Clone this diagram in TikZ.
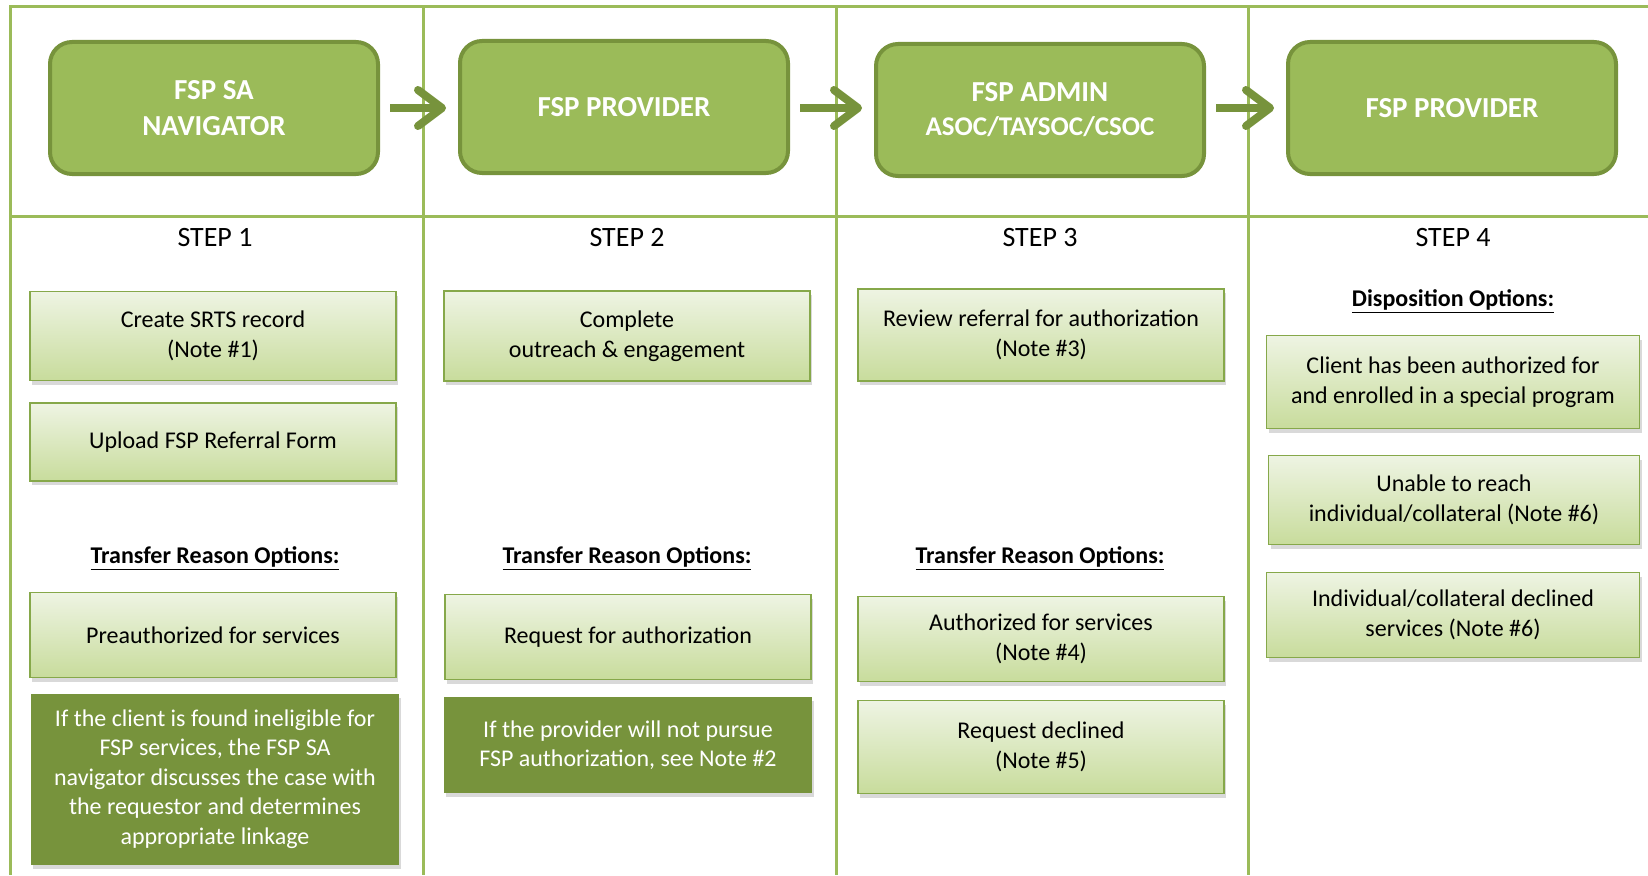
\documentclass[tikz,border=0pt]{standalone}
\usepackage{fontspec}
\setmainfont{Carlito}
\usetikzlibrary{arrows.meta,shadows}
\definecolor{gridgreen}{HTML}{9BBB59}
\definecolor{headfill}{HTML}{9BBB59}
\definecolor{olive}{HTML}{77933C}
\definecolor{paletop}{HTML}{EEF4E3}
\definecolor{palebot}{HTML}{C8DC9C}
\definecolor{paleline}{HTML}{86A84A}

\begin{document}
\begin{tikzpicture}[x=1pt, y=-1pt,
    header/.style={rounded corners=22pt, draw=olive, line width=4pt, fill=headfill,
        text=white, align=center, minimum width=328pt, minimum height=132pt,
        font=\fontsize{29}{36}\selectfont\bfseries},
    steplabel/.style={font=\fontsize{28}{34}\selectfont},
    optlabel/.style={font=\fontsize{24}{29}\selectfont\bfseries},
    lightbox/.style={draw=paleline, line width=1.5pt, top color=paletop, bottom color=palebot,
        align=center, minimum width=366pt, font=\fontsize{24}{29.5}\selectfont,
        drop shadow={shadow xshift=2pt, shadow yshift=-4pt, opacity=0.3}},
    darkbox/.style={fill=olive, text=white, align=center, minimum width=368pt,
        font=\fontsize{24}{29.5}\selectfont,
        drop shadow={shadow xshift=2pt, shadow yshift=-4pt, opacity=0.3}},
    gridline/.style={draw=gridgreen, line width=3pt},
    flowarrow/.style={draw=olive, line width=8pt, shorten <=10pt, shorten >=12pt,
        -{Straight Barb[length=24pt, width=36pt, round]}}
]
    \useasboundingbox (0,0) rectangle (1648,875);
    \draw[gridline] (10,875) -- (10,7) -- (1648,7);
    \draw[gridline] (10,216) -- (1648,216);
    \draw[gridline] (423,7) -- (423,875);
    \draw[gridline] (836,7) -- (836,875);
    \draw[gridline] (1248,7) -- (1248,875);

    \node[header] (nav) at (214,108) {FSP SA\\NAVIGATOR};
    \node[header] (prov) at (624,107) {FSP PROVIDER};
    \node[header] (admin) at (1040,110) {FSP ADMIN\\[-2pt]{\fontsize{27}{34}\selectfont ASOC/TAYSOC/CSOC}};
    \node[header] (final) at (1452,108) {FSP PROVIDER};
    \draw[flowarrow] (nav.east) -- (nav.east -| prov.west);
    \draw[flowarrow] (prov.east |- nav.east) -- (nav.east -| admin.west);
    \draw[flowarrow] (admin.east |- nav.east) -- (final.west);

    \node[steplabel] (s1) at (215,238) {STEP 1};
    \node[steplabel] (s2) at (627,238) {STEP 2};
    \node[steplabel] (s3) at (1040,238) {STEP 3};
    \node[steplabel] (s4) at (1453,238) {STEP 4};

    \node[lightbox, minimum height=89pt] (srts) at (213,336) {Create SRTS record\\(Note \#1)};
    \node[lightbox, minimum height=78pt] (upload) at (213,442) {Upload FSP Referral Form};
    \node[optlabel] (tr1) at (215,558) {\underline{Transfer Reason Options:}};
    \node[lightbox, minimum height=85pt] (preauth) at (213,635) {Preauthorized for services};
    \node[darkbox, minimum height=171pt] (inelig) at (215,779) {If the client is found ineligible for\\FSP services, the FSP SA\\navigator discusses the case with\\the requestor and determines\\appropriate linkage};

    \node[lightbox, minimum height=90pt] (outreach) at (627,336) {Complete\\outreach \& engagement};
    \node[optlabel] (tr2) at (627,558) {\underline{Transfer Reason Options:}};
    \node[lightbox, minimum height=85pt] (reqauth) at (628,637) {Request for authorization};
    \node[darkbox, minimum height=96pt] (nopursue) at (628,745) {If the provider will not pursue\\FSP authorization, see Note \#2};

    \node[lightbox, minimum height=92pt] (review) at (1041,335) {Review referral for authorization\\(Note \#3)};
    \node[optlabel] (tr3) at (1040,558) {\underline{Transfer Reason Options:}};
    \node[lightbox, minimum height=85pt] (authd) at (1041,639) {Authorized for services\\(Note \#4)};
    \node[lightbox, minimum height=93pt] (declined) at (1041,747) {Request declined\\(Note \#5)};

    \node[optlabel] (dispo) at (1453,301) {\underline{Disposition Options:}};
    \node[lightbox, minimum width=373pt, minimum height=93pt] (enrolled) at (1453,382) {Client has been authorized for\\and enrolled in a special program};
    \node[lightbox, minimum width=371pt, minimum height=89pt] (unreach) at (1454,500) {Unable to reach\\individual/collateral (Note \#6)};
    \node[lightbox, minimum width=373pt, minimum height=85pt] (refused) at (1453,615) {Individual/collateral declined\\services (Note \#6)};
\end{tikzpicture}
\end{document}
